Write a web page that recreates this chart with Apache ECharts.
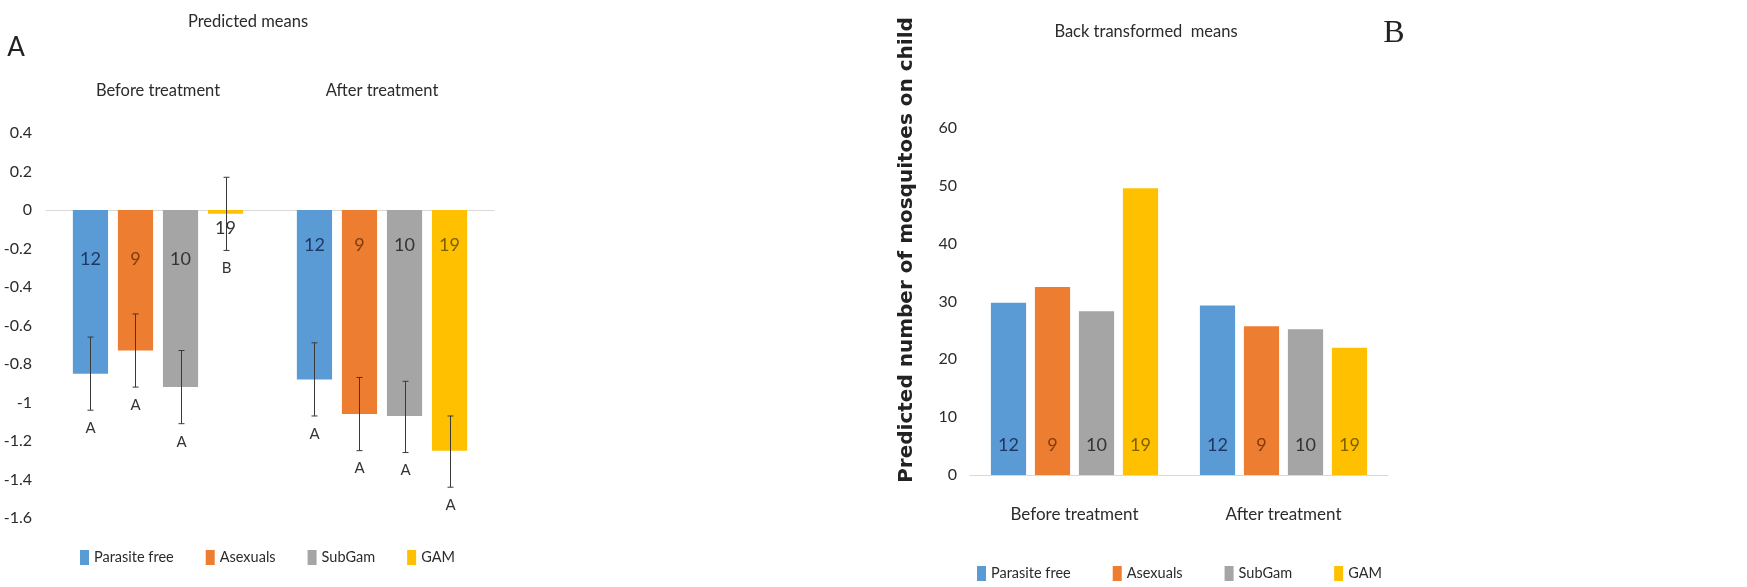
<!DOCTYPE html>
<html>
<head>
<meta charset="utf-8">
<script src="https://cdn.jsdelivr.net/npm/echarts@6/dist/echarts.min.js"></script>
<style>
html,body{margin:0;padding:0;background:#fff;}
#chart{width:1747px;height:587px;}
</style>
</head>
<body>
<div id="chart"></div>
<script>
// ---------- data ----------
const categories = ['Before treatment', 'After treatment'];
const groupNames = ['Parasite free', 'Asexuals', 'SubGam', 'GAM'];
const sampleSizes = [12, 9, 10, 19];

// Panel A: predicted means (per category: before, after)
const predParasiteFree = [-0.85, -0.88];
const predAsexuals = [-0.73, -1.06];
const predSubGam = [-0.92, -1.07];
const predGAM = [-0.02, -1.25];

// error bar ends (low, high)
const errLowParasiteFree = [-1.04, -1.07];
const errHighParasiteFree = [-0.66, -0.69];
const errLowAsexuals = [-0.92, -1.25];
const errHighAsexuals = [-0.54, -0.87];
const errLowSubGam = [-1.11, -1.26];
const errHighSubGam = [-0.73, -0.89];
const errLowGAM = [-0.21, -1.44];
const errHighGAM = [0.17, -1.07];

// significance letters
const lettersParasiteFree = ['A', 'A'];
const lettersAsexuals = ['A', 'A'];
const lettersSubGam = ['A', 'A'];
const lettersGAM = ['B', 'A'];

// Panel B: back transformed means
const backParasiteFree = [29.8, 29.3];
const backAsexuals = [32.5, 25.7];
const backSubGam = [28.3, 25.2];
const backGAM = [49.6, 22.0];

// axes
const leftAxisMin = -1.6, leftAxisMax = 0.4, leftAxisStep = 0.2;
const rightAxisMin = 0, rightAxisMax = 60, rightAxisStep = 10;

// ---------- styles ----------
const FONT = "Lato, 'Liberation Sans', sans-serif";
const colors = ['#5B9BD5', '#ED7D31', '#A5A5A5', '#FFC000'];
const labelColors = ['#1F3864', '#843C0C', '#333333', '#7F6000'];
const TEXT = '#2b2b2b';
const AXIS_LINE = '#D9D9D9';
const LEFT_CAT_GAP = 0.24, LEFT_BAR_GAP = 0.28;
const RIGHT_CAT_GAP = 0.20, RIGHT_BAR_GAP = 0.25;

const predSets = [predParasiteFree, predAsexuals, predSubGam, predGAM];
const errLow = [errLowParasiteFree, errLowAsexuals, errLowSubGam, errLowGAM];
const errHigh = [errHighParasiteFree, errHighAsexuals, errHighSubGam, errHighGAM];
const letters = [lettersParasiteFree, lettersAsexuals, lettersSubGam, lettersGAM];
const backSets = [backParasiteFree, backAsexuals, backSubGam, backGAM];

const series = [];

// Left panel bars
predSets.forEach((vals, k) => {
  series.push({
    name: groupNames[k],
    type: 'bar',
    xAxisIndex: 0, yAxisIndex: 0,
    barCategoryGap: (LEFT_CAT_GAP * 100) + '%',
    barGap: (LEFT_BAR_GAP * 100) + '%',
    itemStyle: { color: colors[k] },
    label: {
      show: true,
      position: 'insideTop',
      formatter: () => String(sampleSizes[k]),
      fontFamily: FONT, fontSize: 18, color: labelColors[k]
    },
    data: vals.map((v, i) => {
      const item = { value: v };
      if (k === 3 && i === 0) {
        item.label = { position: 'bottom', distance: 5, color: '#333' };
      } else {
        item.label = { distance: i === 0 ? 40 : 26 };
      }
      return item;
    }),
    z: 2
  });
});

// Left panel error bars + letters
function errRenderer(k) {
  return function (params, api) {
    const cat = api.value(0);
    const lo = api.value(1);
    const hi = api.value(2);
    const band = api.size([1, 0])[0];
    const groupW = band * (1 - LEFT_CAT_GAP);
    const barW = groupW / (4 + 3 * LEFT_BAR_GAP);
    const cx = api.coord([cat, 0])[0] - groupW / 2 + k * barW * (1 + LEFT_BAR_GAP) + barW / 2;
    const x = Math.round(cx) + 0.5;
    const yLo = api.coord([cat, lo])[1];
    const yHi = api.coord([cat, hi])[1];
    const cap = 3;
    const st = { stroke: '#3a3a3a', lineWidth: 1 };
    return {
      type: 'group',
      children: [
        { type: 'line', shape: { x1: x, y1: yHi, x2: x, y2: yLo }, style: st },
        { type: 'line', shape: { x1: x - cap, y1: yHi, x2: x + cap, y2: yHi }, style: st },
        { type: 'line', shape: { x1: x - cap, y1: yLo, x2: x + cap, y2: yLo }, style: st },
        {
          type: 'text', x: x, y: yLo + 18,
          style: {
            text: letters[k][params.dataIndex],
            fill: '#333', font: '15px ' + FONT,
            align: 'center', verticalAlign: 'middle',
            textAlign: 'center', textVerticalAlign: 'middle'
          }
        }
      ]
    };
  };
}
groupNames.forEach((g, k) => {
  series.push({
    name: 'err ' + g,
    type: 'custom',
    xAxisIndex: 0, yAxisIndex: 0,
    renderItem: errRenderer(k),
    encode: { x: 0, y: [1, 2] },
    data: categories.map((c, i) => [i, errLow[k][i], errHigh[k][i]]),
    z: 5,
    silent: true
  });
});

// Right panel bars
backSets.forEach((vals, k) => {
  series.push({
    name: groupNames[k],
    type: 'bar',
    xAxisIndex: 2, yAxisIndex: 1,
    barCategoryGap: (RIGHT_CAT_GAP * 100) + '%',
    barGap: (RIGHT_BAR_GAP * 100) + '%',
    itemStyle: { color: colors[k] },
    label: {
      show: true,
      position: 'insideBottom',
      distance: 21,
      formatter: () => String(sampleSizes[k]),
      fontFamily: FONT, fontSize: 18, color: labelColors[k]
    },
    data: vals
  });
});

const legendCommon = {
  data: groupNames,
  icon: 'rect',
  itemWidth: 9,
  itemHeight: 15,
  textStyle: { fontFamily: FONT, fontSize: 14.5, color: TEXT },
  selectedMode: false
};

const option = {
  animation: false,
  backgroundColor: '#ffffff',
  color: colors,
  grid: [
    { left: 46, top: 133, width: 448, height: 385 },
    { left: 970, top: 128, width: 418, height: 347 }
  ],
  xAxis: [
    {
      gridIndex: 0, type: 'category', data: categories, position: 'bottom',
      axisLine: { onZero: true, lineStyle: { color: AXIS_LINE, width: 1 } },
      axisTick: { show: false }, axisLabel: { show: false }
    },
    {
      gridIndex: 0, type: 'category', data: categories, position: 'top',
      axisLine: { show: false }, axisTick: { show: false },
      axisLabel: { fontFamily: FONT, fontSize: 16.5, color: TEXT, margin: 34 }
    },
    {
      gridIndex: 1, type: 'category', data: categories, position: 'bottom',
      axisLine: { lineStyle: { color: AXIS_LINE, width: 1 } },
      axisTick: { show: false },
      axisLabel: { fontFamily: FONT, fontSize: 17, color: TEXT, margin: 31 }
    }
  ],
  yAxis: [
    {
      gridIndex: 0, type: 'value',
      min: leftAxisMin, max: leftAxisMax, interval: leftAxisStep,
      splitLine: { show: false }, axisLine: { show: false }, axisTick: { show: false },
      axisLabel: {
        fontFamily: FONT, fontSize: 16, color: TEXT, margin: 14,
        formatter: v => String(Math.round(v * 10) / 10)
      }
    },
    {
      gridIndex: 1, type: 'value',
      min: rightAxisMin, max: rightAxisMax, interval: rightAxisStep,
      splitLine: { show: false }, axisLine: { show: false }, axisTick: { show: false },
      axisLabel: { fontFamily: FONT, fontSize: 16, color: TEXT, margin: 13 }
    }
  ],
  legend: [
    Object.assign({ left: 75, top: 545, itemGap: 32 }, legendCommon),
    Object.assign({ left: 972, top: 561, itemGap: 42 }, legendCommon)
  ],
  graphic: [
    {
      type: 'text', x: 248, y: 22,
      style: { text: 'Predicted means', font: '16.5px ' + FONT, fill: TEXT,
        align: 'center', verticalAlign: 'middle', textAlign: 'center', textVerticalAlign: 'middle' }
    },
    {
      type: 'text', x: 16, y: 48,
      style: { text: 'A', font: '26px ' + FONT, fill: '#222',
        align: 'center', verticalAlign: 'middle', textAlign: 'center', textVerticalAlign: 'middle' }
    },
    {
      type: 'text', x: 1146, y: 32,
      style: { text: 'Back transformed  means', font: '16.5px ' + FONT, fill: TEXT,
        align: 'center', verticalAlign: 'middle', textAlign: 'center', textVerticalAlign: 'middle' }
    },
    {
      type: 'text', x: 1394, y: 34,
      style: { text: 'B', font: '32px "Liberation Serif", serif', fill: '#222',
        align: 'center', verticalAlign: 'middle', textAlign: 'center', textVerticalAlign: 'middle' }
    },
    {
      type: 'text', x: 907, y: 250, rotation: Math.PI / 2,
      style: { text: 'Predicted number of mosquitoes on child', font: 'bold 20px "DejaVu Sans", sans-serif', fill: '#222',
        align: 'center', verticalAlign: 'middle', textAlign: 'center', textVerticalAlign: 'middle' }
    }
  ],
  series: series
};

const chart = echarts.init(document.getElementById('chart'), null, { renderer: 'canvas' });
chart.setOption(option);
</script>
</body>
</html>
